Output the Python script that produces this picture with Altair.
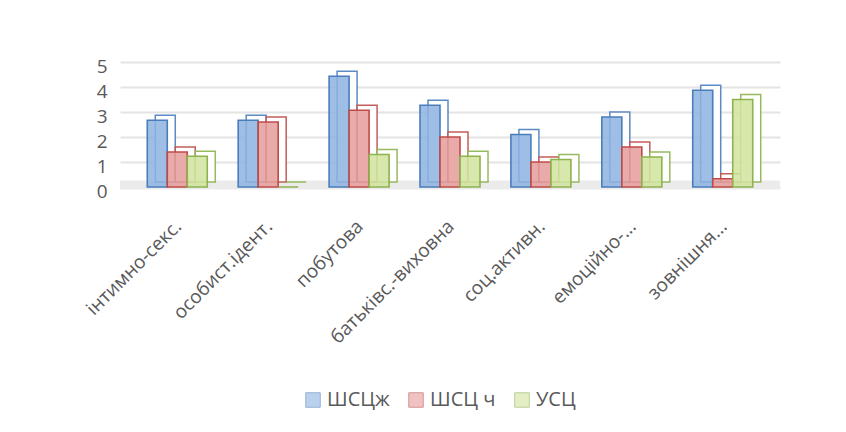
import altair as alt
import pandas as pd

categories = ["інтимно-секс.", "особист.ідент.", "побутова", "батьківс.-виховна",
              "соц.активн.", "емоційно-...", "зовнішня..."]
series = ["ШСЦж", "ШСЦ ч", "УСЦ"]
v_shczh = [2.67, 2.67, 4.43, 3.27, 2.1, 2.8, 3.87]
v_shcch = [1.4, 2.6, 3.07, 2.0, 1.0, 1.6, 0.33]
v_usc = [1.23, 0.0, 1.3, 1.23, 1.1, 1.2, 3.5]

rows = []
for s, vals in zip(series, [v_shczh, v_shcch, v_usc]):
    for c, v in zip(categories, vals):
        rows.append({"cat": c, "series": s, "value": v})
df = pd.DataFrame(rows)

fills = ["#8DB3E2", "#E59C9A", "#D1E49F"]
strokes = ["#4A7EBB", "#BE4B48", "#8DB24E"]

W, H = 660, 125
BW = 60  # group bandwidth

legend_spec = alt.Legend(title=None, orient="none", direction="horizontal",
                         legendX=183, legendY=328, symbolType="square",
                         symbolSize=210, symbolStrokeWidth=1,
                         labelFontSize=20, labelFont="Open Sans",
                         labelColor="#595959", columnPadding=16,
                         symbolOpacity=0.6)

x_enc = alt.X("cat:N", sort=categories, title=None,
              scale=alt.Scale(paddingInner=0.34, paddingOuter=0.3),
              axis=alt.Axis(labelAngle=-45, labelAlign="right", labelBaseline="middle",
                            labelFontSize=19, labelColor="#595959", labelFont="Open Sans",
                            labelPadding=36, labelOffset=1, ticks=False, domain=False,
                            grid=False, labelLimit=300))
y_enc = alt.Y("value:Q", title=None,
              scale=alt.Scale(domain=[0, 5], nice=False),
              axis=alt.Axis(values=[0, 1, 2, 3, 4, 5], labelFontSize=19, labelColor="#595959",
                            labelFont="Open Sans", labelPadding=13, labelOffset=4,
                            ticks=False, domain=False, grid=True,
                            gridColor="#E4E4E4", gridWidth=2))

stroke_enc = alt.Stroke("series:N", sort=series,
                        scale=alt.Scale(domain=series, range=strokes), legend=legend_spec)

floor = alt.Chart(pd.DataFrame({"value": [0]})).mark_rule(
    color="#EBEBEB", strokeWidth=9, yOffset=-2
).encode(y=y_enc)

back = alt.Chart(df).mark_bar(yOffset=-5, fill="white",
                              strokeWidth=1.5, strokeOpacity=0.9).encode(
    x=x_enc,
    y=y_enc,
    xOffset=alt.XOffset("series:N", sort=series,
                        scale=alt.Scale(range=[8, BW + 8], paddingInner=0, paddingOuter=0)),
    stroke=stroke_enc,
)

front = alt.Chart(df).mark_bar(strokeWidth=1.6, fillOpacity=0.85).encode(
    x=x_enc,
    y=y_enc,
    xOffset=alt.XOffset("series:N", sort=series,
                        scale=alt.Scale(range=[0, BW], paddingInner=0, paddingOuter=0)),
    fill=alt.Fill("series:N", sort=series,
                  scale=alt.Scale(domain=series, range=fills), legend=legend_spec),
    stroke=stroke_enc,
)

chart = alt.layer(floor, back, front).resolve_scale(xOffset="independent").properties(
    width=W, height=H,
    autosize=alt.AutoSizeParams(type="none"),
    padding={"left": 112, "top": 54, "right": 58, "bottom": 237},
    background="white",
).configure_view(stroke=None)

chart.save("out.html", embed_options={"renderer": "svg", "actions": False})
